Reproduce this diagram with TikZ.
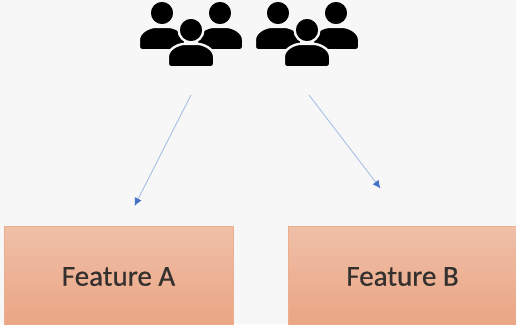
\documentclass[tikz,border=0pt]{standalone}
\usepackage{fontspec}
\usetikzlibrary{arrows.meta}
\setmainfont{Carlito}
\definecolor{pagebg}{HTML}{F7F7F7}
\definecolor{arrowblue}{HTML}{4472C4}
\definecolor{linkblue}{HTML}{A9BFE6}
\definecolor{boxtop}{HTML}{EFBFA8}
\definecolor{boxbottom}{HTML}{EBA583}
\definecolor{boxedge}{HTML}{EDAE8E}
\definecolor{labeltext}{HTML}{33302E}
\tikzset{
  featurebox/.style={minimum width=229pt,minimum height=100pt,inner sep=0pt,
    top color=boxtop,bottom color=boxbottom,draw=boxedge,line width=0.6pt,
    text=labeltext,font=\fontsize{29}{32}\selectfont\addfontfeature{FakeBold=0.6}},
  link/.style={draw=linkblue,line width=0.9pt,
    -{Latex[length=8pt,width=7.5pt,color=arrowblue]}},
  person/.style={fill=black,draw=pagebg,line width=2.4pt},
  pics/oneperson/.style={code={
    \path[person] (0,0) circle (12.4pt);
    \path[person] (-23.2,34) -- (-23.2,27) .. controls (-23.2,18.5) and (-12,13.8) .. (-6,13.8)
      -- (6,13.8) .. controls (12,13.8) and (23.2,18.5) .. (23.2,27) -- (23.2,34)
      .. controls (23.2,36) and (22,37.2) .. (20,37.2) -- (-20,37.2)
      .. controls (-22,37.2) and (-23.2,36) .. (-23.2,34) -- cycle;
  }},
  pics/peoplegroup/.style={code={
    \pic at (-29,-17) {oneperson};
    \pic at (29,-17) {oneperson};
    \pic at (0,0) {oneperson};
  }}
}
\begin{document}
\begin{tikzpicture}[x=1pt,y=-1pt]
\useasboundingbox (0,0) rectangle (516,324);
\clip (0,0) rectangle (516,324);
\fill[pagebg] (0,0) rectangle (516,324);
\pic at (191,30) {peoplegroup};
\pic at (307,30) {peoplegroup};
\node[featurebox] (featureA) at (118.5,276.5) {Feature A};
\node[featurebox] (featureB) at (402.5,276.5) {Feature B};
\coordinate (startA) at (191,95);
\coordinate (endA) at (134.5,206);
\coordinate (startB) at (309,95);
\coordinate (endB) at (380.5,188.5);
\draw[link] (startA) -- (endA);
\draw[link] (startB) -- (endB);
\end{tikzpicture}
\end{document}
